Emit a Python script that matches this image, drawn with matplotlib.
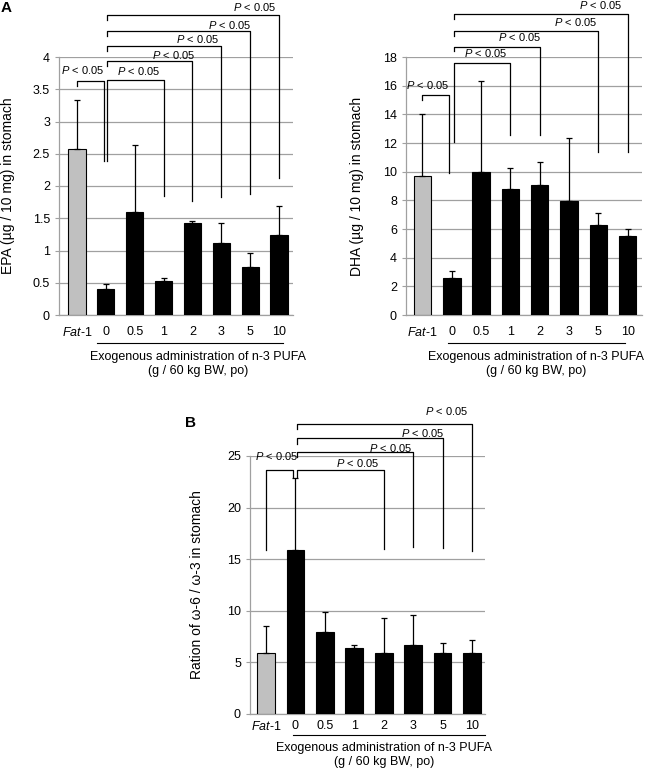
import numpy as np
import matplotlib
matplotlib.use('Agg')
import matplotlib.pyplot as plt
import matplotlib.transforms as mtransforms

plt.rcParams['font.family'] = ['Liberation Sans', 'DejaVu Sans']
plt.rcParams['mathtext.fontset'] = 'custom'
plt.rcParams['mathtext.it'] = 'Liberation Sans:italic'
plt.rcParams['mathtext.rm'] = 'Liberation Sans'

# groups: Fat-1 mice, then n-3 PUFA dose (g / 60 kg BW)
categories = [r'$Fat$-1', '0', '0.5', '1', '2', '3', '5', '10']

# EPA (ug / 10 mg) in stomach, mean and upper SD
epa_mean = [2.57, 0.41, 1.60, 0.53, 1.42, 1.12, 0.75, 1.24]
epa_err = [0.76, 0.07, 1.03, 0.04, 0.04, 0.30, 0.21, 0.45]
epa_yticks = [0, 0.5, 1, 1.5, 2, 2.5, 3, 3.5, 4]
epa_ylabels = ['0', '0.5', '1', '1.5', '2', '2.5', '3', '3.5', '4']

# DHA (ug / 10 mg) in stomach
dha_mean = [9.7, 2.6, 9.95, 8.8, 9.1, 7.95, 6.3, 5.5]
dha_err = [4.35, 0.45, 6.4, 1.45, 1.55, 4.4, 0.8, 0.5]
dha_yticks = [0, 2, 4, 6, 8, 10, 12, 14, 16, 18]
dha_ylabels = ['0', '2', '4', '6', '8', '10', '12', '14', '16', '18']

# ratio w-6 / w-3 in stomach
ratio_mean = [5.95, 15.85, 7.9, 6.4, 5.9, 6.7, 5.9, 5.9]
ratio_err = [2.6, 7.0, 1.95, 0.25, 3.45, 2.9, 0.95, 1.3]
ratio_yticks = [0, 5, 10, 15, 20, 25]
ratio_ylabels = ['0', '5', '10', '15', '20', '25']

# significance brackets: left x, right x, line y, left leg end, right leg end, label x, label y
epa_brackets = [
    (0, 0.93, 3.63, 3.55, 2.38, 0.19, 3.80),
    (1.05, 3, 3.64, 2.38, 1.84, 2.13, 3.78),
    (1.05, 4, 3.94, 3.86, 1.77, 3.36, 4.03),
    (1.05, 5, 4.17, 4.09, 1.83, 4.19, 4.28),
    (1.05, 6, 4.40, 4.32, 1.88, 5.28, 4.50),
    (1.05, 7, 4.65, 4.57, 2.12, 6.15, 4.77),
]
dha_brackets = [
    (0, 0.9, 15.35, 15.0, 9.9, 0.19, 16.05),
    (1.07, 3, 17.58, 12.05, 12.58, 2.15, 18.26),
    (1.07, 4, 18.72, 18.4, 12.58, 3.33, 19.42),
    (1.07, 6, 19.8, 19.45, 11.4, 5.24, 20.47),
    (1.07, 7, 21.0, 20.65, 11.4, 6.08, 21.63),
]
ratio_brackets = [
    (0, 0.93, 23.6, 15.9, 23.0, 0.36, 25.0),
    (1.05, 4, 23.6, 23.0, 16.0, 3.11, 24.3),
    (1.05, 5, 25.4, 24.9, 16.2, 4.25, 25.75),
    (1.05, 6, 26.7, 26.2, 16.1, 5.32, 27.2),
    (1.05, 7, 28.1, 27.6, 15.8, 6.12, 29.4),
]

W, H = 650, 773
fig = plt.figure(figsize=(6.5, 7.73), dpi=100)


def px_axes(x0, y0, x1, y1):
    # pixel box (top-left origin) -> figure fraction
    return fig.add_axes([x0 / W, 1 - y1 / H, (x1 - x0) / W, (y1 - y0) / H])


def draw_panel(ax, means, errs, yticks, ylabels, xlim, brackets, line_span, line_y, pad):
    x = np.arange(len(categories))
    colors = ['#c0c0c0'] + ['black'] * (len(categories) - 1)
    ax.bar(x, means, width=0.6, color=colors, edgecolor='black', linewidth=0.8, zorder=3)
    ax.errorbar(x, means, yerr=[np.zeros(len(errs)), errs], fmt='none', ecolor='black',
                elinewidth=0.9, capsize=2.5, capthick=0.9, zorder=4)
    ax.set_xlim(xlim)
    ax.set_ylim(0, yticks[-1])
    ax.set_yticks(yticks, ylabels)
    ax.set_xticks(x, categories)
    ax.yaxis.grid(True, color='#a0a0a0', linewidth=0.9)
    ax.set_axisbelow(True)
    for s in ['top', 'right']:
        ax.spines[s].set_visible(False)
    for s in ['left', 'bottom']:
        ax.spines[s].set_color('#a0a0a0')
        ax.spines[s].set_linewidth(0.9)
    ax.tick_params(axis='x', length=0, pad=pad, labelsize=9)
    ax.tick_params(axis='y', length=3, color='#a0a0a0', labelsize=9)

    for x0, x1, y, lb, rb, tx, ty in brackets:
        ax.plot([x0, x0, x1, x1], [lb, y, y, rb], color='black', lw=0.9, clip_on=False, zorder=5)
        ax.text(tx, ty, r'$P$ < 0.05', ha='center', va='center', fontsize=8, clip_on=False)

    trans = mtransforms.blended_transform_factory(ax.transData, ax.transAxes)
    ax.plot(line_span, [line_y, line_y], color='black', lw=0.8, transform=trans, clip_on=False)


ax1 = px_axes(59, 57, 293, 315)
draw_panel(ax1, epa_mean, epa_err, epa_yticks, epa_ylabels, (-0.62, 7.48),
           epa_brackets, [0.68, 7.15], -0.109, 8)

ax2 = px_axes(406, 57, 642, 315)
draw_panel(ax2, dha_mean, dha_err, dha_yticks, dha_ylabels, (-0.56, 7.49),
           dha_brackets, [0.87, 6.91], -0.109, 8)

ax3 = px_axes(250, 456, 485, 714)
draw_panel(ax3, ratio_mean, ratio_err, ratio_yticks, ratio_ylabels, (-0.54, 7.44),
           ratio_brackets, [0.93, 7.44], -0.081, 4)


def ftext(x, y, s, **kw):
    fig.text(x / W, 1 - y / H, s, **kw)


ftext(8, 186, u'EPA (\u00b5g / 10 mg) in stomach', rotation=90, ha='center', va='center', fontsize=10)
ftext(357, 186, u'DHA (\u00b5g / 10 mg) in stomach', rotation=90, ha='center', va='center', fontsize=10)
ftext(197, 585, u'Ration of \u03c9-6 / \u03c9-3 in stomach', rotation=90, ha='center', va='center', fontsize=10)

for cx, y1, y2 in [(198, 357, 371), (536, 357, 371), (384, 748, 762)]:
    ftext(cx, y1, 'Exogenous administration of n-3 PUFA', ha='center', va='center', fontsize=9)
    ftext(cx, y2, '(g / 60 kg BW, po)', ha='center', va='center', fontsize=9)

ftext(6, 8, 'A', ha='center', va='center', fontsize=11, fontweight='bold')
ftext(190, 423, 'B', ha='center', va='center', fontsize=11, fontweight='bold')

plt.savefig('out.png', dpi=100)
